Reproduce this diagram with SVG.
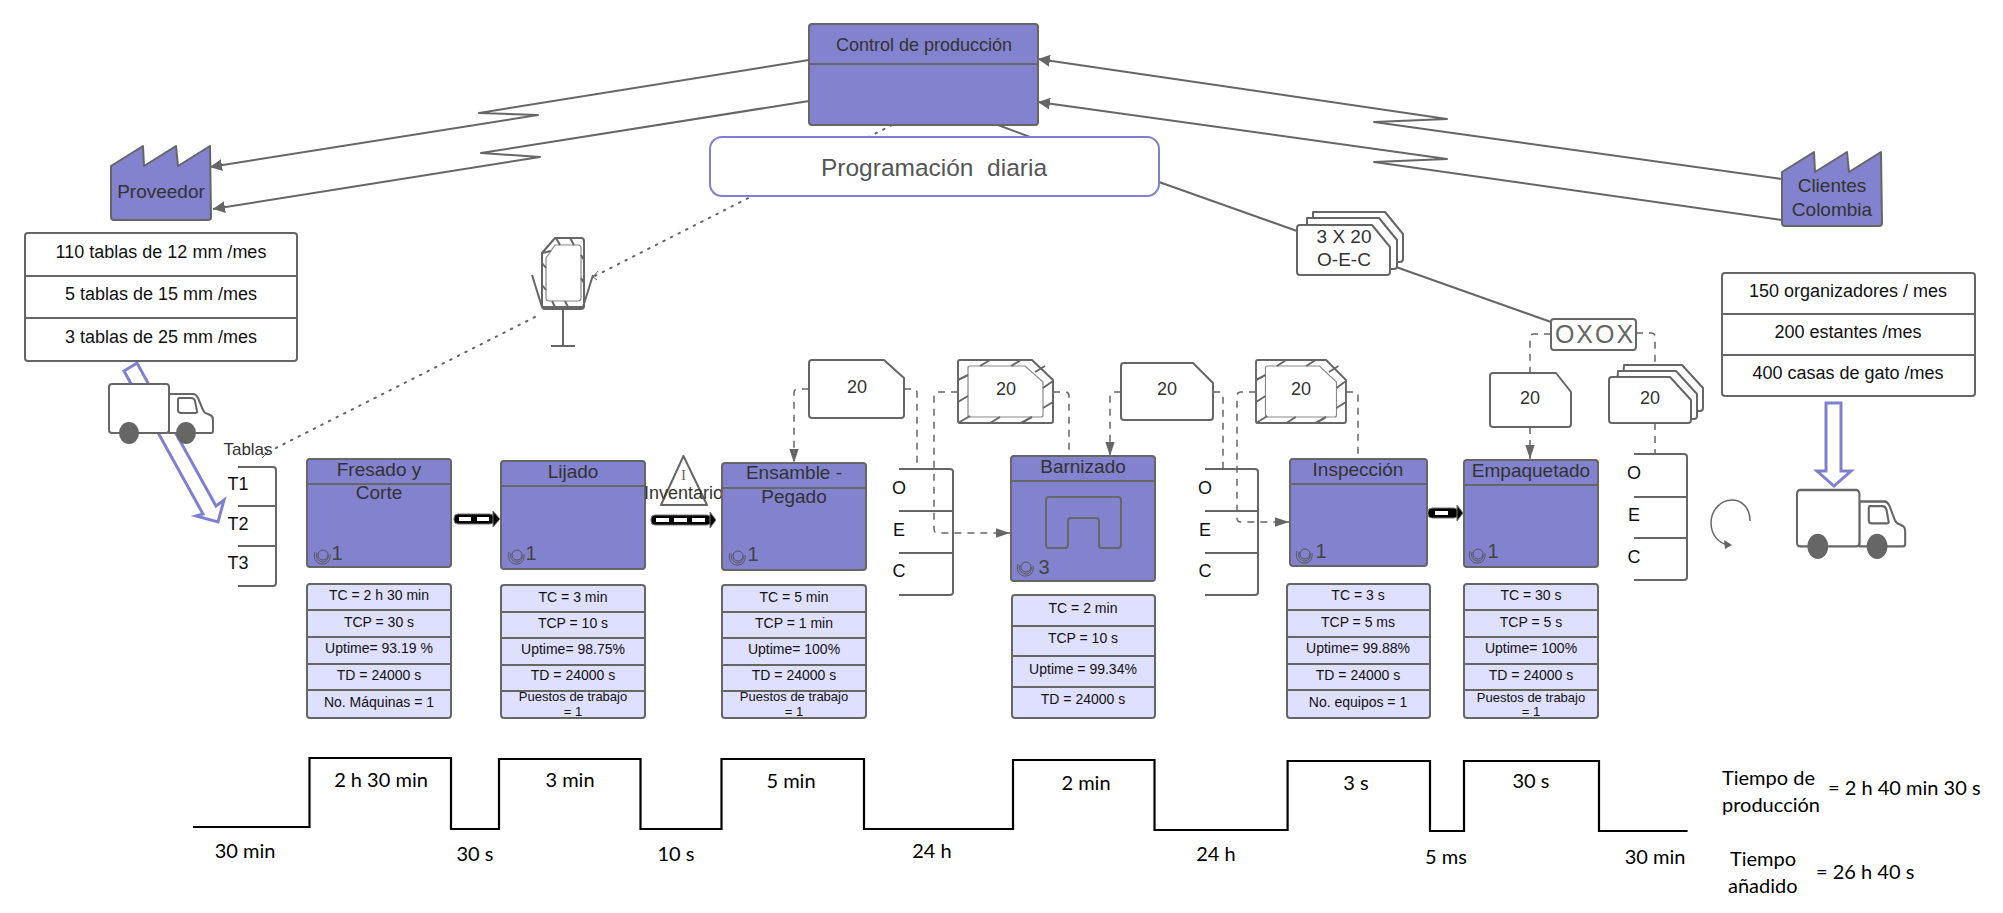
<svg xmlns="http://www.w3.org/2000/svg" width="2003" height="913" viewBox="0 0 2003 913">
<style>
text{font-family:"Liberation Sans",Arial,sans-serif;text-anchor:middle;dominant-baseline:central;fill:#333}
.s{fill:none;stroke:#666;stroke-width:2;stroke-linejoin:round}
.w{fill:#fff;stroke:#666;stroke-width:2;stroke-linejoin:round}
.p{fill:#8282ce;stroke:#666;stroke-width:2;stroke-linejoin:round}
.d{fill:#dfdfff;stroke:#666;stroke-width:2}
.c{fill:none;stroke:#666;stroke-width:2;stroke-linejoin:round}
.da{fill:none;stroke:#666;stroke-width:1.5;stroke-dasharray:7 6}
.do{fill:none;stroke:#666;stroke-width:2;stroke-dasharray:1.5 7;stroke-linecap:round}
.b{fill:#fff;stroke:#8080d2;stroke-width:3;stroke-linejoin:miter}
.t18{font-size:18px;fill:#111}
.t14{font-size:14px;fill:#111}
.t13{font-size:13px;fill:#111}
.t19{font-size:19px}
.k{font-size:18px;fill:#333}
.o{font-size:18px;fill:#111}
.n{font-size:20px;fill:#444}
.l{font-family:"Lato","Liberation Sans",sans-serif;font-size:20px;fill:#000}
.ls{text-anchor:start}
.tl{fill:none;stroke:#000;stroke-width:2.2}
.h{fill:none;stroke:#666;stroke-width:2}
.u{fill:#000;stroke:#777;stroke-width:1}
</style>
<defs>
<marker id="ah" markerUnits="userSpaceOnUse" markerWidth="12" markerHeight="12" refX="10" refY="5" orient="auto" viewBox="0 0 10 10"><path d="M0,0 L10,5 L0,10 Z" fill="#666"/></marker>
<marker id="ad" markerUnits="userSpaceOnUse" markerWidth="14" markerHeight="10" refX="12" refY="4" orient="auto" viewBox="0 0 12 8"><path d="M0,0 L12,4 L0,8 Z" fill="#666"/></marker>
<g id="kh">
<path class="w" d="M2,0 H74 L95,20 V61 Q95,63 93,63 H2 Q0,63 0,61 V2 Q0,0 2,0Z"/>
<path d="M12,6 H67 L85,22 V55 Q85,57 83,57 H12 Q10,57 10,55 V8 Q10,6 12,6Z" fill="#fff" stroke="#888" stroke-width="1.2"/>
<path class="h" d="M0,20 L10,15 M0,42 L10,36 M0,63 L12,56 M22,6 L32,0 M53,6 L63,0 M32,63 L42,57 M63,63 L74,57 M77,12 L87,6 M85,28 L95,21 M85,48 L95,42"/>
</g>
<g id="op"><circle cx="1" cy="-1" r="5" fill="none" stroke="#555" stroke-width="1"/><path d="M-7,-4 C-10,4 -3,9 1,8 C6,8 9,3 8,-2" fill="none" stroke="#555" stroke-width="1"/><path d="M-5,-3 C-7,3 -2,6 1,6 C4,6 7,3 6,-1" fill="none" stroke="#555" stroke-width="1"/></g>
<g id="trk">
<path class="w" d="M60,10 H84 Q87,10 89,14 L94,26 Q95,29 99,30 L101,31 Q104,32 104,36 V47 Q104,49 102,49 H60 Z"/>
<path class="s" d="M70,14 H82 Q85,14 86,17 L88,27 Q89,29 86,29 H72 Q69,29 69,26 V16 Q69,14 70,14Z"/>
<rect class="w" x="0" y="0" width="60" height="49" rx="3"/>
<ellipse cx="20" cy="49" rx="10" ry="11" fill="#666"/><ellipse cx="77" cy="49" rx="10" ry="11" fill="#666"/>
</g>
</defs>

<g id="connectors">
<path class="c" d="M998,125 L1030,137 M1159,182 L1297,231 M1396,267 L1551,322"/>
<path class="do" d="M892,125 L593,277 M535,317 L270,451"/>
<path class="c" d="M262,458 L268,452 L264,447 M598,271 L593,277 L597,280" style="stroke-width:1"/>
<path class="da" marker-end="url(#ad)" d="M809,389 H798 Q794,389 794,393 V463"/>
<path class="da" d="M904,389 H913 Q917,389 917,393 V469"/>
<path class="da" marker-end="url(#ad)" d="M958,392 H938 Q934,392 934,396 V529 Q934,533 938,533 H1010"/>
<path class="da" d="M1053,392 H1065 Q1069,392 1069,396 V456"/>
<path class="da" marker-end="url(#ad)" d="M1121,392 H1114 Q1110,392 1110,396 V456"/>
<path class="da" d="M1213,392 H1219 Q1223,392 1223,396 V469"/>
<path class="da" marker-end="url(#ad)" d="M1256,392 H1241 Q1237,392 1237,396 V518 Q1237,522 1241,522 H1289"/>
<path class="da" d="M1346,392 H1354 Q1358,392 1358,396 V459"/>
<path class="da" d="M1551,334 H1534 Q1530,334 1530,338 V373"/>
<path class="da" marker-end="url(#ad)" d="M1530,427 V459"/>
<path class="da" d="M1636,333 H1651 Q1655,333 1655,337 V365"/>
<path class="da" d="M1655,423 V454"/>
<path class="b" d="M124,371 L137,363 L216,506 L224,500 L218,522 L196,516 L203,514 Z"/>
<path class="b" d="M1826,403 H1841 V471 H1851 L1834,486 L1817,471 H1826 Z"/>
</g>

<g id="proveedor">
<path class="p" d="M111,166 L143,146 L144,166 L176,146 L178,166 L210,146 L211,217 Q211,220 208,220 H114 Q111,220 111,217 Z"/>
<text class="t19" x="161" y="191">Proveedor</text>
</g>
<g id="demanda-proveedor">
<rect class="w" x="25" y="233" width="272" height="128" rx="3"/>
<path class="s" d="M25,276 H297 M25,318 H297"/>
<text class="t18" x="161" y="252">110 tablas de 12 mm /mes</text>
<text class="t18" x="161" y="294">5 tablas de 15 mm /mes</text>
<text class="t18" x="161" y="337">3 tablas de 25 mm /mes</text>
</g>
<g id="control">
<rect class="p" x="809" y="24" width="229" height="101" rx="3"/>
<path class="s" d="M809,64 H1038"/>
<text x="924" y="45" font-size="18">Control de producción</text>
</g>
<g id="programacion">
<rect x="710" y="137" width="449" height="59" rx="12" fill="#fff" stroke="#8080d2" stroke-width="2"/>
<text x="934" y="167" font-size="24.5" style="fill:#555;white-space:pre">Programación  diaria</text>
</g>
<g id="clientes">
<path class="p" d="M1782,172 L1814,152 L1815,172 L1847,152 L1849,172 L1881,152 L1882,223 Q1882,226 1879,226 H1785 Q1782,226 1782,223 Z"/>
<text class="t19" x="1832" y="185">Clientes</text>
<text class="t19" x="1832" y="209">Colombia</text>
</g>
<g id="connectors-sistema">
<path class="c" marker-end="url(#ah)" d="M809,60 L479,113 L538,115 L210,167"/>
<path class="c" marker-end="url(#ah)" d="M809,101 L481,153 L540,157 L213,209"/>
<path class="c" marker-end="url(#ah)" d="M1782,179 L1374,122 L1447,119 L1038,59"/>
<path class="c" marker-end="url(#ah)" d="M1782,220 L1374,162 L1447,159 L1038,102"/>
</g>
<g id="demanda-clientes">
<rect class="w" x="1722" y="273" width="253" height="123" rx="3"/>
<path class="s" d="M1722,314 H1975 M1722,355 H1975"/>
<text class="t18" x="1848" y="291">150 organizadores / mes</text>
<text class="t18" x="1848" y="332">200 estantes /mes</text>
<text class="t18" x="1848" y="373">400 casas de gato /mes</text>
</g>
<g id="camion-proveedor"><use href="#trk" transform="translate(109,384)"/></g>
<g id="camion-clientes"><use href="#trk" transform="translate(1797,490) scale(1.04,1.15)"/></g>
<g id="kanban-post">
<path class="c" d="M542,253 L555,238 H581 Q584,238 584,241 V306 Q584,309 581,309 H545 Q542,309 542,306 Z"/>
<path d="M546,258 L555,245 H578 Q581,245 581,248 V298 Q581,301 578,301 H549 Q546,301 546,298 Z" fill="#fff" stroke="#888" stroke-width="1.2"/>
<path class="h" d="M542,253 L551,251 M556,238 L560,245 M570,238 L574,245 M581,255 L584,260 M581,278 L584,283 M542,263 L546,268 M542,285 L546,290 M552,301 L556,309 M565,301 L569,309 M542,307 H584"/>
<path class="c" d="M532,275 L542,307 M593,275 L583,307 M563,309 V346 M551,346 H575"/>
</g>
<g id="kanban-oec">
<path class="w" d="M1313,212 H1385 L1403,234 V259 Q1403,262 1400,262 H1313 Z"/>
<path class="w" d="M1307,218 H1379 L1397,240 V266 Q1397,269 1394,269 H1307 Z"/>
<path class="w" d="M1300,225 H1372 L1390,247 V272 Q1390,275 1387,275 H1300 Q1297,275 1297,272 V228 Q1297,225 1300,225Z"/>
<text class="t19" x="1344" y="236">3 X 20</text>
<text class="t19" x="1344" y="259">O-E-C</text>
</g>
<g id="oxox">
<rect class="w" x="1551" y="319" width="85" height="31" rx="3"/>
<text x="1595" y="334" font-size="25" letter-spacing="2" style="fill:#666">OXOX</text>
</g>
<g id="kanban-1"><path class="w" d="M812,360 H884 L904,378 V415 Q904,418 901,418 H812 Q809,418 809,415 V363 Q809,360 812,360Z"/><text class="k" x="857" y="387">20</text></g>
<g id="kanban-2"><use href="#kh" transform="translate(958,360)"/><text class="k" x="1006" y="389">20</text></g>
<g id="kanban-3"><path class="w" d="M1124,363 H1193 L1213,383 V417 Q1213,420 1210,420 H1124 Q1121,420 1121,417 V366 Q1121,363 1124,363Z"/><text class="k" x="1167" y="389">20</text></g>
<g id="kanban-4"><use href="#kh" transform="translate(1256,360) scale(.947,1)"/><text class="k" x="1301" y="389">20</text></g>
<g id="kanban-5"><path class="w" d="M1493,373 H1556 L1571,392 V424 Q1571,427 1568,427 H1493 Q1490,427 1490,424 V376 Q1490,373 1493,373Z"/><text class="k" x="1530" y="398">20</text></g>
<g id="kanban-6">
<path class="w" d="M1624,365 H1682 L1703,388 V408 Q1703,411 1700,411 H1621 Z"/>
<path class="w" d="M1618,371 H1676 L1697,394 V416 Q1697,419 1694,419 H1615 Z"/>
<path class="w" d="M1612,377 H1670 L1691,400 V420 Q1691,423 1688,423 H1612 Q1609,423 1609,420 V380 Q1609,377 1612,377Z"/>
<text class="k" x="1650" y="398">20</text>
</g>
<g id="tablas">
<text x="248" y="449" font-size="17">Tablas</text>
<path class="s" d="M238,467 H273 Q276,467 276,470 V583 Q276,586 273,586 H238 M238,506 H276 M238,546 H276"/>
<text class="o" x="238" y="484">T1</text><text class="o" x="238" y="524">T2</text><text class="o" x="238" y="563">T3</text>
</g>
<g id="oec-1">
<path class="s" d="M899,469 H950 Q953,469 953,472 V592 Q953,595 950,595 H899 M899,511 H953 M899,553 H953"/>
<text class="o" x="899" y="488">O</text><text class="o" x="899" y="530">E</text><text class="o" x="899" y="571">C</text>
</g>
<g id="oec-2">
<path class="s" d="M1205,469 H1255 Q1258,469 1258,472 V592 Q1258,595 1255,595 H1205 M1205,511 H1258 M1205,553 H1258"/>
<text class="o" x="1205" y="488">O</text><text class="o" x="1205" y="530">E</text><text class="o" x="1205" y="571">C</text>
</g>
<g id="oec-3">
<path class="s" d="M1634,454 H1684 Q1687,454 1687,457 V577 Q1687,580 1684,580 H1634 M1634,497 H1687 M1634,538 H1687"/>
<text class="o" x="1634" y="473">O</text><text class="o" x="1634" y="515">E</text><text class="o" x="1634" y="557">C</text>
</g>
<g id="supermercado">
<path class="c" style="stroke-width:1.5" d="M1750,521 C1750,508 1742,500 1732,500 C1721,500 1711,510 1711,523 C1711,535 1719,544 1729,545"/>
<path d="M1724,540 L1732,545 L1725,549 Z" fill="#666"/>
</g>

<g id="fresado">
<rect class="p" x="307" y="459" width="144" height="108" rx="3"/><path class="s" d="M307,484 H451"/>
<text class="t19" x="379" y="469">Fresado y</text><text class="t19" x="379" y="492">Corte</text>
<use href="#op" x="322" y="556"/><text class="n" x="337" y="553">1</text>
</g>
<g id="fresado-datos">
<rect class="d" x="307" y="584" width="144" height="134" rx="3"/><path class="s" d="M307,610 H451 M307,637 H451 M307,664 H451 M307,690 H451"/>
<text class="t14" x="379" y="595">TC = 2 h 30 min</text><text class="t14" x="379" y="622">TCP = 30 s</text><text class="t14" x="379" y="648">Uptime= 93.19 %</text><text class="t14" x="379" y="675">TD = 24000 s</text><text class="t14" x="379" y="702">No. Máquinas = 1</text>
</g>
<g id="lijado">
<rect class="p" x="501" y="461" width="144" height="108" rx="3"/><path class="s" d="M501,486 H645"/>
<text class="t19" x="573" y="471">Lijado</text>
<use href="#op" x="516" y="556"/><text class="n" x="531" y="553">1</text>
</g>
<g id="lijado-datos">
<rect class="d" x="501" y="585" width="144" height="133" rx="3"/><path class="s" d="M501,612 H645 M501,638 H645 M501,665 H645 M501,691 H645"/>
<text class="t14" x="573" y="597">TC = 3 min</text><text class="t14" x="573" y="623">TCP = 10 s</text><text class="t14" x="573" y="649">Uptime= 98.75%</text><text class="t14" x="573" y="675">TD = 24000 s</text><text class="t13" x="573" y="696">Puestos de trabajo</text><text class="t13" x="573" y="711">= 1</text>
</g>
<g id="inventario">
<path class="w" d="M683.5,456 L707,505 H661 Z"/>
<text x="683.5" y="475" font-size="15" style="font-family:'Liberation Serif',serif;fill:#666">I</text>
<text x="683.5" y="493" font-size="18">Inventario</text>
</g>
<g id="ensamble">
<rect class="p" x="722" y="463" width="144" height="107" rx="3"/><path class="s" d="M722,488 H866"/>
<text class="t19" x="794" y="472">Ensamble -</text><text class="t19" x="794" y="496">Pegado</text>
<use href="#op" x="737" y="557"/><text class="n" x="753" y="554">1</text>
</g>
<g id="ensamble-datos">
<rect class="d" x="722" y="585" width="144" height="133" rx="3"/><path class="s" d="M722,612 H866 M722,638 H866 M722,665 H866 M722,691 H866"/>
<text class="t14" x="794" y="597">TC = 5 min</text><text class="t14" x="794" y="623">TCP = 1 min</text><text class="t14" x="794" y="649">Uptime= 100%</text><text class="t14" x="794" y="675">TD = 24000 s</text><text class="t13" x="794" y="696">Puestos de trabajo</text><text class="t13" x="794" y="711">= 1</text>
</g>
<g id="barnizado">
<rect class="p" x="1011" y="456" width="144" height="125" rx="3"/><path class="s" d="M1011,481 H1155"/>
<text class="t19" x="1083" y="466">Barnizado</text>
<path class="s" d="M1049,497 H1118 Q1121,497 1121,500 V545 Q1121,548 1118,548 H1102 Q1099,548 1099,545 V521 Q1099,518 1096,518 H1071 Q1068,518 1068,521 V545 Q1068,548 1065,548 H1049 Q1046,548 1046,545 V500 Q1046,497 1049,497Z"/>
<use href="#op" x="1025" y="568"/><text class="n" x="1044" y="567">3</text>
</g>
<g id="barnizado-datos">
<rect class="d" x="1012" y="595" width="143" height="123" rx="3"/><path class="s" d="M1012,626 H1155 M1012,656 H1155 M1012,687 H1155"/>
<text class="t14" x="1083" y="608">TC = 2 min</text><text class="t14" x="1083" y="638">TCP = 10 s</text><text class="t14" x="1083" y="669">Uptime = 99.34%</text><text class="t14" x="1083" y="699">TD = 24000 s</text>
</g>
<g id="inspeccion">
<rect class="p" x="1290" y="459" width="137" height="107" rx="3"/><path class="s" d="M1290,484 H1427"/>
<text class="t19" x="1358" y="469">Inspección</text>
<use href="#op" x="1304" y="555"/><text class="n" x="1321" y="551">1</text>
</g>
<g id="inspeccion-datos">
<rect class="d" x="1287" y="584" width="143" height="134" rx="3"/><path class="s" d="M1287,610 H1430 M1287,637 H1430 M1287,664 H1430 M1287,690 H1430"/>
<text class="t14" x="1358" y="595">TC = 3 s</text><text class="t14" x="1358" y="622">TCP = 5 ms</text><text class="t14" x="1358" y="648">Uptime= 99.88%</text><text class="t14" x="1358" y="675">TD = 24000 s</text><text class="t14" x="1358" y="702">No. equipos = 1</text>
</g>
<g id="empaquetado">
<rect class="p" x="1464" y="460" width="134" height="107" rx="3"/><path class="s" d="M1464,485 H1598"/>
<text class="t19" x="1531" y="470">Empaquetado</text>
<use href="#op" x="1477" y="555"/><text class="n" x="1493" y="551">1</text>
</g>
<g id="empaquetado-datos">
<rect class="d" x="1464" y="584" width="134" height="134" rx="3"/><path class="s" d="M1464,610 H1598 M1464,637 H1598 M1464,664 H1598 M1464,690 H1598"/>
<text class="t14" x="1531" y="595">TC = 30 s</text><text class="t14" x="1531" y="622">TCP = 5 s</text><text class="t14" x="1531" y="648">Uptime= 100%</text><text class="t14" x="1531" y="675">TD = 24000 s</text><text class="t13" x="1531" y="697">Puestos de trabajo</text><text class="t13" x="1531" y="711">= 1</text>
</g>

<g id="empuje-1">
<rect class="u" x="454" y="514" width="40" height="10" rx="4"/><path class="u" d="M493,511 L500,519 L493,527 Z"/>
<rect x="459" y="517" width="12" height="4" fill="#fff"/><rect x="477" y="517" width="12" height="4" fill="#fff"/>
</g>
<g id="empuje-2">
<rect class="u" x="651" y="515" width="60" height="10" rx="4"/><path class="u" d="M710,512 L716,520 L710,528 Z"/>
<rect x="656" y="518" width="13" height="4" fill="#fff"/><rect x="674" y="518" width="13" height="4" fill="#fff"/><rect x="692" y="518" width="13" height="4" fill="#fff"/>
</g>
<g id="empuje-3">
<rect class="u" x="1428" y="508" width="30" height="10" rx="4"/><path class="u" d="M1457,505 L1463,513 L1457,521 Z"/>
<rect x="1435" y="511" width="13" height="4" fill="#fff"/>
</g>

<g id="linea-tiempo">
<path class="tl" d="M193,827 H309.5 V758 H451 V829 H499 V759 H640.5 V829 H721.5 V759 H864 V829 H1013 V760 H1154.5 V830 H1287.6 V761 H1430 V831 H1464 V761 H1599 V831 H1687.6"/>
<text class="l" x="245" y="850">30 min</text><text class="l" x="381" y="779">2 h 30 min</text><text class="l" x="475" y="853">30 s</text><text class="l" x="570" y="779">3 min</text><text class="l" x="676" y="853">10 s</text><text class="l" x="791" y="780">5 min</text><text class="l" x="932" y="850">24 h</text><text class="l" x="1086" y="782">2 min</text><text class="l" x="1216" y="853">24 h</text><text class="l" x="1356" y="782">3 s</text><text class="l" x="1446" y="856">5 ms</text><text class="l" x="1531" y="780">30 s</text><text class="l" x="1655" y="856">30 min</text>
<text class="l ls" x="1722" y="777">Tiempo de</text><text class="l ls" x="1722" y="804">producción</text><text class="l ls" x="1828" y="787">= 2 h 40 min 30 s</text>
<text class="l ls" x="1730" y="858">Tiempo</text><text class="l ls" x="1728" y="885">añadido</text><text class="l ls" x="1816" y="871">= 26 h 40 s</text>
</g>
</svg>
